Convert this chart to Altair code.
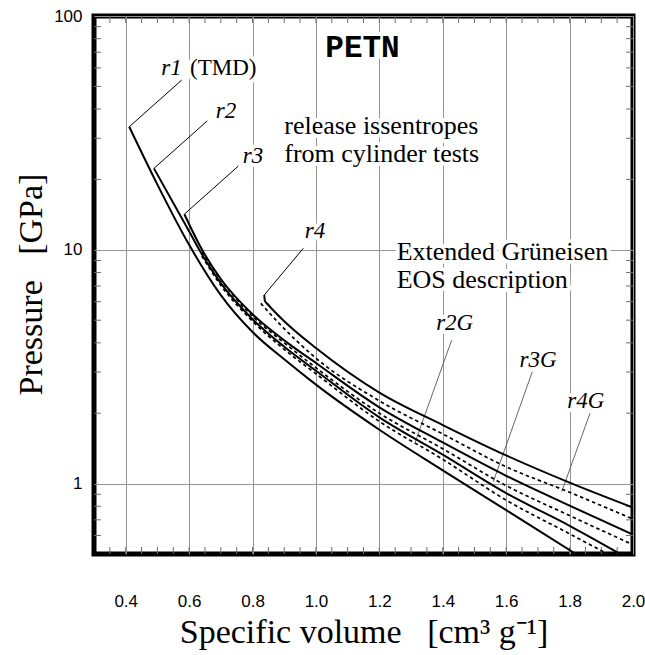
import altair as alt
import pandas as pd

# ---- curve data (specific volume [cm3/g], pressure [GPa]) ----
r1_v = [0.411, 0.5, 0.6, 0.7, 0.8, 0.9, 1.0, 1.2, 1.4, 1.6, 1.82]
r1_p = [33.6, 19.0, 10.5, 6.4, 4.45, 3.4, 2.65, 1.70, 1.14, 0.77, 0.5]

r2_v = [0.489, 0.6, 0.632, 0.7, 0.8, 0.9, 1.0, 1.2, 1.4, 1.6, 1.8, 1.96]
r2_p = [22.3, 12.0, 10.0, 7.2, 5.05, 3.85, 3.04, 1.92, 1.33, 0.91, 0.66, 0.5]

r3_v = [0.585, 0.641, 0.7, 0.8, 0.9, 1.0, 1.2, 1.4, 1.6, 1.8, 2.0]
r3_p = [14.2, 10.0, 7.5, 5.3, 4.1, 3.28, 2.12, 1.50, 1.08, 0.805, 0.605]

r4_v = [0.837, 0.839, 0.848, 0.9, 1.0, 1.2, 1.4, 1.6, 1.8, 2.0]
r4_p = [6.41, 6.05, 5.85, 4.95, 3.8, 2.45, 1.78, 1.32, 1.01, 0.79]

r2G_v = [0.64, 0.7, 0.8, 0.9, 1.0, 1.2, 1.4, 1.6, 1.8, 1.92]
r2G_p = [9.4, 7.05, 4.95, 3.75, 2.95, 1.845, 1.27, 0.85, 0.61, 0.5]

r3G_v = [0.64, 0.7, 0.8, 0.9, 1.0, 1.2, 1.4, 1.6, 1.8, 2.0]
r3G_p = [9.8, 7.45, 5.2, 4.0, 3.13, 2.0, 1.41, 0.98, 0.73, 0.548]

r4G_v = [0.826, 0.886, 1.0, 1.2, 1.4, 1.6, 1.8, 2.0]
r4G_p = [5.9, 4.81, 3.44, 2.26, 1.63, 1.18, 0.918, 0.705]

# leader lines: curve label -> (v_start, p_start, v_end, p_end)
lead_names = ["r1", "r2", "r3", "r4"]
lead_v1 = [0.4113, 0.4892, 0.5848, 0.8371]
lead_p1 = [33.6, 22.3, 14.2, 6.41]
lead_v2 = [0.5766, 0.6573, 0.7551, 0.9601]
lead_p2 = [53.2, 35.6, 22.8, 10.15]

leadG_names = ["r2G", "r3G", "r4G"]
leadG_v1 = [1.428, 1.6824, 1.8644]
leadG_p1 = [4.11, 3.01, 2.0]
leadG_v2 = [1.3124, 1.5594, 1.7751]
leadG_p2 = [1.496, 1.019, 0.923]

# labels
ital_text = ["r2", "r3", "r4", "r2G", "r3G", "r4G"]
ital_v = [0.7163, 0.8015, 0.997, 1.4376, 1.7003, 1.851]
ital_p = [36.5, 23.4, 11.2, 4.54, 3.16, 2.10]

note_text = ["release issentropes", "from cylinder tests", "Extended Grüneisen", "EOS description"]
note_v = [0.90, 0.90, 1.2547, 1.2547]
note_p = [31.3, 23.8, 9.05, 6.85]

# axis values
x_labels = [0.4, 0.6, 0.8, 1.0, 1.2, 1.4, 1.6, 1.8, 2.0]
y_labels = [1, 10, 100]
x_minor = [0.35, 0.40, 0.45, 0.50, 0.55, 0.60, 0.65, 0.70, 0.75, 0.80, 0.85, 0.90,
           0.95, 1.00, 1.05, 1.10, 1.15, 1.20, 1.25, 1.30, 1.35, 1.40, 1.45, 1.50,
           1.55, 1.60, 1.65, 1.70, 1.75, 1.80, 1.85, 1.90, 1.95]
y_minor = [0.6, 0.7, 0.8, 0.9, 2, 3, 4, 5, 6, 7, 8, 9, 20, 30, 40, 50, 60, 70, 80, 90]

W, H = 539, 538
NB = "\u00a0"


def curve_df(pairs):
    rows = []
    for name, vs, ps in pairs:
        for i, (v, p) in enumerate(zip(vs, ps)):
            rows.append({"curve": name, "v": v, "p": p, "i": i})
    return pd.DataFrame(rows)


solid_df = curve_df([("r1", r1_v, r1_p), ("r2", r2_v, r2_p), ("r3", r3_v, r3_p), ("r4", r4_v, r4_p)])
dash_df = curve_df([("r2G", r2G_v, r2G_p), ("r3G", r3G_v, r3G_p), ("r4G", r4G_v, r4G_p)])
lead_df = pd.DataFrame({"name": lead_names, "v": lead_v1, "p": lead_p1, "v2": lead_v2, "p2": lead_p2})
leadG_df = pd.DataFrame({"name": leadG_names, "v": leadG_v1, "p": leadG_p1, "v2": leadG_v2, "p2": leadG_p2})
ital_df = pd.DataFrame({"t": ital_text, "v": ital_v, "p": ital_p})
r1_df = pd.DataFrame({"t": ["r1"], "v": [0.5766], "p": [55.9]})
tmd_df = pd.DataFrame({"t": ["(TMD)"], "v": [0.6028], "p": [55.9]})
note_df = pd.DataFrame({"t": note_text, "v": note_v, "p": note_p})
petn_df = pd.DataFrame({"t": ["PETN"], "v": [1.1468], "p": [66.8]})
xm_df = pd.DataFrame({"v": x_minor})
ym_df = pd.DataFrame({"p": y_minor})

GRID = "#959595"
xs = alt.Scale(domain=[0.3, 2.0], nice=False, zero=False)
ys = alt.Scale(type="log", domain=[0.5, 100], nice=False)

x_axis = alt.Axis(values=x_labels, format=".1f", grid=True, gridColor=GRID, gridWidth=1,
                  ticks=False, domain=False, labelFont="Liberation Sans", labelFontSize=17,
                  labelColor="black", labelPadding=39, labelFlush=False, labelOverlap=False,
                  title="Specific volume" + NB * 3 + "[cm³ g⁻¹]", titleFont="Liberation Serif",
                  titleFontSize=34, titleFontWeight="normal", titleColor="black",
                  titleX=269.5, titleY=88, titleAlign="center", titleBaseline="alphabetic")
y_axis = alt.Axis(values=y_labels, format="d", grid=True, gridColor=GRID, gridWidth=1,
                  ticks=False, domain=False, labelFont="Liberation Sans", labelFontSize=17,
                  labelColor="black", labelPadding=12, labelFlush=False, labelOverlap=False,
                  title="Pressure" + NB * 3 + "[GPa]", titleFont="Liberation Serif", titleFontSize=34,
                  titleFontWeight="normal", titleColor="black", titleAngle=270,
                  titleX=-53, titleY=268, titleAlign="center", titleBaseline="alphabetic")

X = alt.X("v:Q", scale=xs, axis=x_axis)
Y = alt.Y("p:Q", scale=ys, axis=y_axis)

solid = alt.Chart(solid_df).mark_line(color="black", strokeWidth=2, clip=True,
                                      interpolate="monotone").encode(
    x=X, y=Y, detail="curve:N", order="i:Q")
dashed = alt.Chart(dash_df).mark_line(color="black", strokeWidth=1.7, strokeDash=[3.5, 3],
                                      clip=True, interpolate="monotone").encode(
    x=X, y=Y, detail="curve:N", order="i:Q")
leaders = alt.Chart(lead_df).mark_rule(color="black", strokeWidth=1).encode(
    x=X, y=Y, x2="v2:Q", y2="p2:Q")
leadersG = alt.Chart(leadG_df).mark_rule(color="#555555", strokeWidth=0.9).encode(
    x=X, y=Y, x2="v2:Q", y2="p2:Q")

TICK = "#6e6e6e"
tick_top = alt.Chart(xm_df).mark_rule(color=TICK, strokeWidth=1).encode(
    x=X, y=alt.value(0), y2=alt.value(7))
tick_bot = alt.Chart(xm_df).mark_rule(color=TICK, strokeWidth=1).encode(
    x=X, y=alt.value(H - 7), y2=alt.value(H))
tick_left = alt.Chart(ym_df).mark_rule(color=TICK, strokeWidth=1).encode(
    y=Y, x=alt.value(0), x2=alt.value(7))
tick_right = alt.Chart(ym_df).mark_rule(color=TICK, strokeWidth=1).encode(
    y=Y, x=alt.value(W - 7), x2=alt.value(W))


def text_layers(df, **kw):
    halo = alt.Chart(df).mark_text(stroke="white", strokeWidth=8, fill="white",
                                   strokeJoin="round", **kw).encode(x=X, y=Y, text="t:N")
    txt = alt.Chart(df).mark_text(color="black", **kw).encode(x=X, y=Y, text="t:N")
    return [halo, txt]


SERIF = "Liberation Serif"
texts = []
texts += text_layers(ital_df, font=SERIF, fontSize=23, fontStyle="italic", align="center",
                     baseline="alphabetic")
texts += text_layers(r1_df, font=SERIF, fontSize=23, fontStyle="italic", align="right",
                     baseline="alphabetic")
texts += text_layers(tmd_df, font=SERIF, fontSize=23, align="left", baseline="alphabetic")
texts += text_layers(note_df, font=SERIF, fontSize=26, align="left", baseline="alphabetic")
texts += text_layers(petn_df, font="Liberation Mono", fontSize=31, fontWeight="bold",
                     align="center", baseline="alphabetic")

chart = alt.layer(
    tick_top, tick_bot, tick_left, tick_right,
    leaders, leadersG, solid, dashed, *texts
).properties(
    width=W, height=H,
    autosize=alt.AutoSizeParams(type="none"),
    padding={"left": 94, "top": 16, "right": 12, "bottom": 101},
    background="white",
).configure_view(
    stroke="black", strokeWidth=5
)

chart.save("out.html", embed_options={"renderer": "svg", "actions": False})
